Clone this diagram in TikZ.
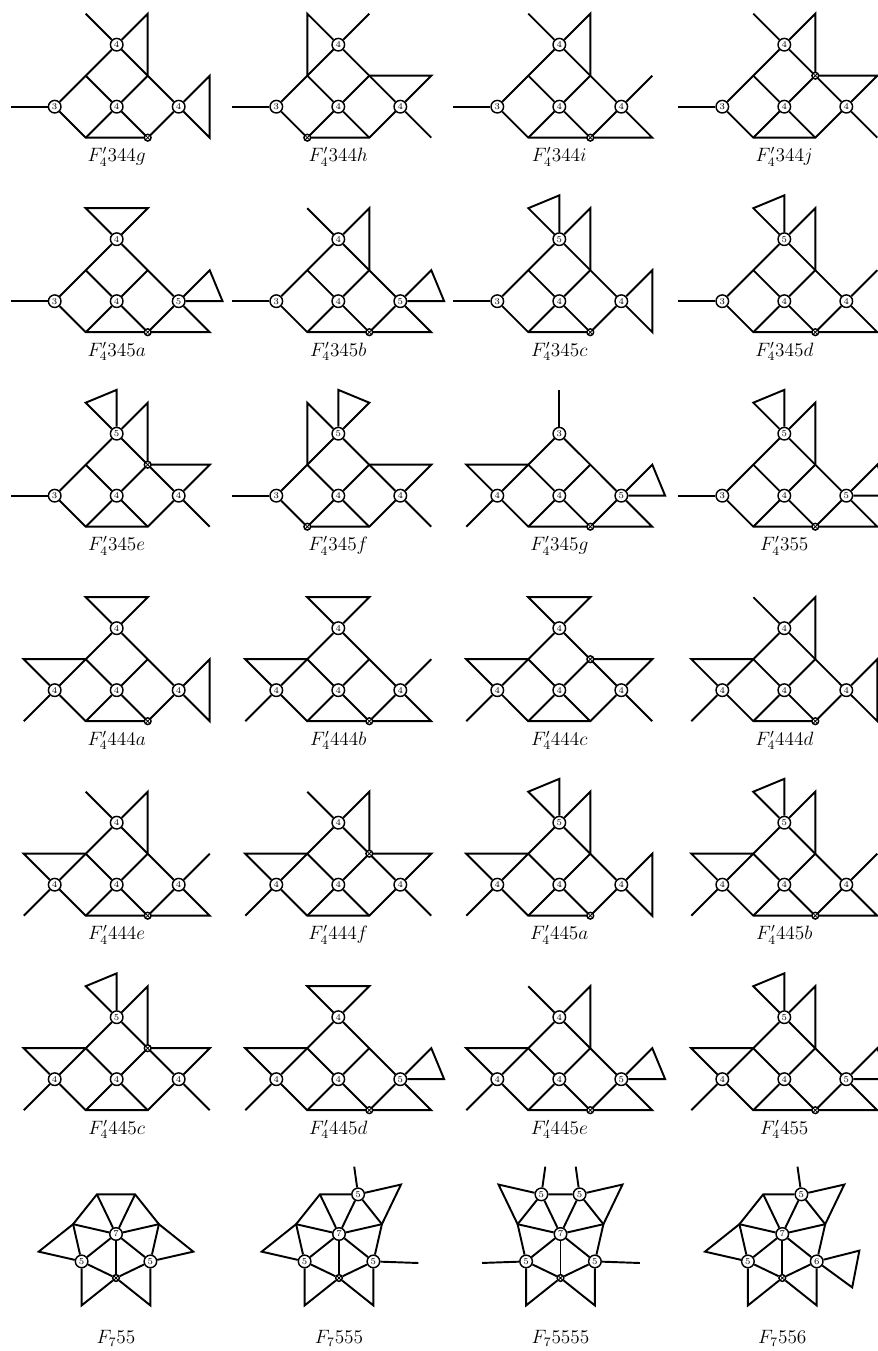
\documentclass[tikz,border=0pt]{standalone}
\usepackage{amsmath}
\usepackage{amssymb}
\usepackage{tikz}

\tikzset{
  ln/.style={line width=1.2pt},
  dnode/.style={circle,draw,fill=white,line width=0.9pt,inner sep=0pt,minimum size=7.8pt,font=\fontsize{5.5}{6}\selectfont},
  xnode/.style={circle,draw,fill=white,line width=0.9pt,inner sep=0pt,minimum size=4.2pt,
    path picture={\draw[line width=0.45pt] (path picture bounding box.north west) -- (path picture bounding box.south east)
      (path picture bounding box.north east) -- (path picture bounding box.south west);}},
  lab/.style={font=\fontsize{12}{14}\selectfont},
}

% pieces added to the F'_4 skeleton
\newcommand\wTail{\draw[ln] (L) -- (ww);}
\newcommand\wWing{\draw[ln] (UL) -- (wn) -- (L) -- (ws);}
\newcommand\nTail{\draw[ln] (T) -- (nw); \draw[ln] (T) -- (ne) -- (UR);}
\newcommand\nCup{\draw[ln] (T) -- (nw) -- (ne) -- (T);}
\newcommand\nFlag{\draw[ln] (T) -- (nw) -- (nn) -- (T); \draw[ln] (T) -- (ne) -- (UR);}
\newcommand\nPost{\draw[ln] (T) -- (ne); \draw[ln] (T) -- (nw) -- (UL);}
\newcommand\nFlagR{\draw[ln] (T) -- (nn) -- (ne) -- (T); \draw[ln] (T) -- (nw) -- (UL);}
\newcommand\nStem{\draw[ln] (T) -- (nn);}
\newcommand\eTri{\draw[ln] (R) -- (en) -- (es) -- (R);}
\newcommand\eWing{\draw[ln] (UR) -- (en) -- (R) -- (es);}
\newcommand\eFoot{\draw[ln] (R) -- (en); \draw[ln] (R) -- (es) -- (BR);}
\newcommand\eFlag{\draw[ln] (R) -- (en) -- (ee) -- (R); \draw[ln] (R) -- (es) -- (BR);}

% x, y, left, top, right, crossed corner, extras, name
\newcommand\fgraph[8]{%
\begin{scope}[shift={(#1,#2)},scale=31]
  \coordinate (UL) at (-1,1); \coordinate (UR) at (1,1);
  \coordinate (BL) at (-1,-1); \coordinate (BR) at (1,-1);
  \coordinate (nw) at (-1,3); \coordinate (ne) at (1,3); \coordinate (nn) at (0,3.414);
  \coordinate (en) at (3,1); \coordinate (es) at (3,-1); \coordinate (ee) at (3.414,0);
  \coordinate (wn) at (-3,1); \coordinate (ws) at (-3,-1); \coordinate (ww) at (-3.414,0);
  \node[dnode] (L) at (-2,0) {#3};
  \node[dnode] (M) at (0,0) {4};
  \node[dnode] (R) at (2,0) {#5};
  \node[dnode] (T) at (0,2) {#4};
  \draw[ln] (L) -- (UL) -- (T) -- (UR) -- (R) -- (BR) -- (BL) -- (L);
  \draw[ln] (UL) -- (M) -- (BR) (UR) -- (M) -- (BL);
  #7
  \node[xnode] (X) at (#6) {};
  \node[lab] (lab) at (0,-1.62) {$F'_4#8$};
\end{scope}}

% heptagon graphs
\newcommand\hv[2]{\if\relax\detokenize{#2}\relax\coordinate (v#1) at (p#1);\else\node[dnode] (v#1) at (p#1) {#2};\fi}
\newcommand\hw[2]{\draw[ln] (v#1) -- (o#1) -- (v#2);}
\newcommand\sgraph[8]{%
\begin{scope}[shift={(#1,#2)}]
  \foreach \k in {0,...,6} {
    \coordinate (p\k) at ({-90+\k*360/7}:44);
    \coordinate (o\k) at ({-90+(\k+0.5)*360/7}:79.3);
  }
  \node[dnode] (C) at (0,0) {7};
  \node[xnode] (v0) at (p0) {};
  \hv{1}{#3} \coordinate (v2) at (p2); \hv{3}{#4} \hv{4}{#5} \coordinate (v5) at (p5); \hv{6}{#6}
  \foreach \k in {0,...,6} \draw[ln] (C) -- (v\k);
  \draw[ln] (v0) -- (v1) -- (v2) -- (v3) -- (v4) -- (v5) -- (v6) -- (v0);
  #7
  \node[lab] (lab) at (0,-104) {$F_7#8$};
\end{scope}}

\begin{document}
\begin{tikzpicture}[x=0.621pt,y=0.621pt]
\useasboundingbox (0,0) rectangle (878,1351);

\fgraph{116.7}{1244.3}{3}{4}{4}{BR}{\wTail\nTail\eTri}{344g}
\fgraph{338.3}{1244.3}{3}{4}{4}{BL}{\wTail\nPost\eWing}{344h}
\fgraph{559.3}{1244.3}{3}{4}{4}{BR}{\wTail\nTail\eFoot}{344i}
\fgraph{784.3}{1244.3}{3}{4}{4}{UR}{\wTail\nTail\eWing}{344j}

\fgraph{116.7}{1049.8}{3}{4}{5}{BR}{\wTail\nCup\eFlag}{345a}
\fgraph{338.3}{1049.8}{3}{4}{5}{BR}{\wTail\nTail\eFlag}{345b}
\fgraph{559.3}{1049.8}{3}{5}{4}{BR}{\wTail\nFlag\eTri}{345c}
\fgraph{784.3}{1049.8}{3}{5}{4}{BR}{\wTail\nFlag\eFoot}{345d}

\fgraph{116.7}{855.3}{3}{5}{4}{UR}{\wTail\nFlag\eWing}{345e}
\fgraph{338.3}{855.3}{3}{5}{4}{BL}{\wTail\nFlagR\eWing}{345f}
\fgraph{559.3}{855.3}{4}{3}{5}{BR}{\wWing\nStem\eFlag}{345g}
\fgraph{784.3}{855.3}{3}{5}{5}{BR}{\wTail\nFlag\eFlag}{355}

\fgraph{116.7}{660.8}{4}{4}{4}{BR}{\wWing\nCup\eTri}{444a}
\fgraph{338.3}{660.8}{4}{4}{4}{BR}{\wWing\nCup\eFoot}{444b}
\fgraph{559.3}{660.8}{4}{4}{4}{UR}{\wWing\nCup\eWing}{444c}
\fgraph{784.3}{660.8}{4}{4}{4}{BR}{\wWing\nTail\eTri}{444d}

\fgraph{116.7}{466.3}{4}{4}{4}{BR}{\wWing\nTail\eFoot}{444e}
\fgraph{338.3}{466.3}{4}{4}{4}{UR}{\wWing\nTail\eWing}{444f}
\fgraph{559.3}{466.3}{4}{5}{4}{BR}{\wWing\nFlag\eTri}{445a}
\fgraph{784.3}{466.3}{4}{5}{4}{BR}{\wWing\nFlag\eFoot}{445b}

\fgraph{116.7}{271.8}{4}{5}{4}{UR}{\wWing\nFlag\eWing}{445c}
\fgraph{338.3}{271.8}{4}{4}{5}{BR}{\wWing\nCup\eFlag}{445d}
\fgraph{559.3}{271.8}{4}{4}{5}{BR}{\wWing\nTail\eFlag}{445e}
\fgraph{784.3}{271.8}{4}{5}{5}{BR}{\wWing\nFlag\eFlag}{455}

\sgraph{116}{117}{5}{}{}{5}{\hw{5}{6}\hw{6}{0}\hw{0}{1}\hw{1}{2}}{55}
\sgraph{339}{117}{5}{5}{}{5}{\hw{5}{6}\hw{6}{0}\hw{0}{1}\hw{2}{3}
  \path (p3) ++(98:28) coordinate (t3); \draw[ln] (v3) -- (t3);
  \path (p1) ++(-2:45) coordinate (t1); \draw[ln] (v1) -- (t1);}{555}
\sgraph{560.5}{117}{5}{5}{5}{5}{\hw{4}{5}\hw{6}{0}\hw{0}{1}\hw{2}{3}
  \path (p3) ++(98:28) coordinate (t3); \draw[ln] (v3) -- (t3);
  \path (p4) ++(82:28) coordinate (t4); \draw[ln] (v4) -- (t4);
  \path (p1) ++(-2:45) coordinate (t1); \draw[ln] (v1) -- (t1);
  \path (p6) ++(182:44) coordinate (t6); \draw[ln] (v6) -- (t6);}{5555}
\sgraph{782.3}{117}{6}{5}{}{5}{\hw{5}{6}\hw{6}{0}\hw{0}{1}\hw{2}{3}
  \path (p3) ++(98:28) coordinate (t3); \draw[ln] (v3) -- (t3);
  \path (p1) ++(14.2:44) coordinate (ra); \path (p1) ++(-36.2:44) coordinate (rb);
  \draw[ln] (v1) -- (ra) -- (rb) -- (v1);}{556}
\end{tikzpicture}
\end{document}
